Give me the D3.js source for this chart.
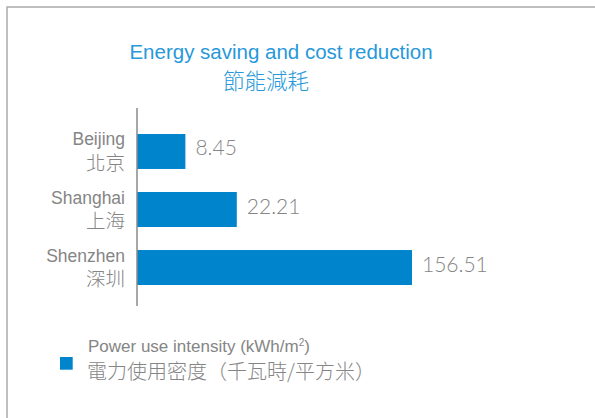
<!DOCTYPE html>
<html>
<head>
<meta charset="utf-8">
<script src="https://cdn.jsdelivr.net/npm/d3@7"></script>
<style>
  html, body { margin: 0; padding: 0; background: #fff; }
  svg { display: block; }
</style>
</head>
<body>
<svg id="chart" width="595" height="418"></svg>
<script>
const titleEn = "Energy saving and cost reduction";
const titleZh = "節能減耗";
const categoriesEn = ["Beijing", "Shanghai", "Shenzhen"];
const categoriesZh = ["北京", "上海", "深圳"];
const values = [8.45, 22.21, 156.51];
const valueLabels = ["8.45", "22.21", "156.51"];
const legendEn = "Power use intensity (kWh/m";
const legendSup = "2";
const legendEnEnd = ")";
const legendZh = "電力使用密度（千瓦時/平方米）";

const W = 595, H = 418;
const blue = "#0084cc";
const titleBlue = "#2898da";
const gray = "#858585";
const latin = "'Liberation Sans', Arial, Helvetica, sans-serif";
const cjk = "'Noto Sans CJK TC', 'Noto Sans CJK SC', sans-serif";
const numFont = "Lato, 'Noto Sans', sans-serif";

const svg = d3.select("#chart");

// frame (top and left edges visible)
svg.append("rect")
  .attr("x", 7).attr("y", 7)
  .attr("width", W + 20).attr("height", H + 20)
  .attr("fill", "none").attr("stroke", "#ababab").attr("stroke-width", 1.5);

// titles
svg.append("text")
  .attr("x", 281).attr("y", 59)
  .attr("text-anchor", "middle")
  .attr("font-family", latin).attr("font-size", 20.5)
  .attr("fill", titleBlue)
  .text(titleEn);
svg.append("text")
  .attr("x", 266).attr("y", 89)
  .attr("text-anchor", "middle")
  .attr("font-family", cjk).attr("font-size", 21.5).attr("font-weight", 300)
  .attr("fill", titleBlue)
  .text(titleZh);

// scales
const x = d3.scaleSymlog().constant(16.5)
  .domain([0, d3.max(values)])
  .range([137, 412]);
const y = d3.scaleBand()
  .domain(categoriesEn)
  .range([116, 303])
  .paddingInner(0.397)
  .paddingOuter(0.31);

// bars
svg.append("g").selectAll("rect")
  .data(values)
  .join("rect")
  .attr("x", x(0))
  .attr("y", (d, i) => y(categoriesEn[i]))
  .attr("width", d => x(d) - x(0))
  .attr("height", y.bandwidth())
  .attr("fill", blue);

// axis line
const yAxis = d3.axisLeft(y).tickSize(0).tickSizeOuter(0).tickFormat("");
const ax = svg.append("g").attr("transform", `translate(${x(0)},0)`).call(yAxis);
ax.select(".domain")
  .attr("d", `M0,${y.range()[0] - 8}V${y.range()[1] + 3}`)
  .attr("stroke", "#8a8a8a").attr("stroke-width", 1.5);

// category labels
const lab = svg.append("g");
categoriesEn.forEach((c, i) => {
  const cy = y(c) + y.bandwidth() / 2;
  lab.append("text")
    .attr("x", 125).attr("y", cy - 6)
    .attr("text-anchor", "end")
    .attr("font-family", latin).attr("font-size", 17.5)
    .attr("fill", gray)
    .text(c);
  lab.append("text")
    .attr("x", 125).attr("y", cy + 18.5)
    .attr("text-anchor", "end")
    .attr("font-family", cjk).attr("font-size", 19.5).attr("font-weight", 300)
    .attr("fill", gray)
    .text(categoriesZh[i]);
});

// value labels
svg.append("g").selectAll("text")
  .data(values)
  .join("text")
  .attr("x", d => x(d) + 10)
  .attr("y", (d, i) => y(categoriesEn[i]) + y.bandwidth() / 2 + 4)
  .attr("font-family", numFont).attr("font-size", 21).attr("font-weight", 300)
  .attr("fill", "#858585")
  .text((d, i) => valueLabels[i]);

// legend
svg.append("rect")
  .attr("x", 60).attr("y", 357)
  .attr("width", 12.7).attr("height", 12.7)
  .attr("fill", blue);
const le = svg.append("text")
  .attr("x", 88).attr("y", 351.5)
  .attr("font-family", latin).attr("font-size", 17)
  .attr("fill", gray);
le.append("tspan").text(legendEn);
le.append("tspan").attr("font-size", 10).attr("dy", -6).text(legendSup);
le.append("tspan").attr("dy", 6).text(legendEnEnd);
svg.append("text")
  .attr("x", 87).attr("y", 379)
  .attr("font-family", cjk).attr("font-size", 20).attr("font-weight", 300)
  .attr("fill", gray)
  .text(legendZh);
</script>
</body>
</html>
